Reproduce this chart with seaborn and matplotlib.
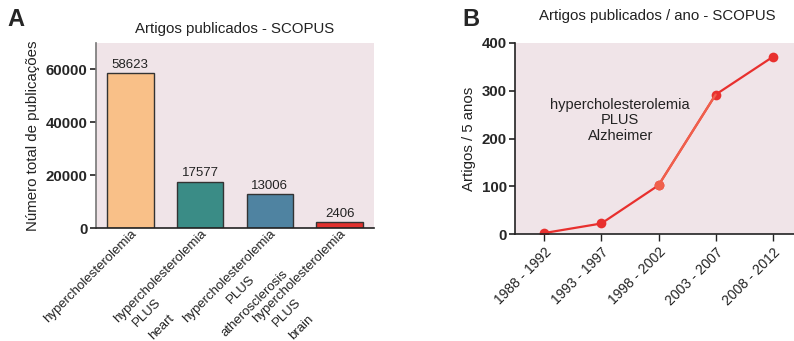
import matplotlib
matplotlib.use("Agg")
import matplotlib.pyplot as plt
import seaborn as sns
import pandas as pd
import numpy as np

sns.set_theme(style="white")
plt.rcParams['font.family'] = ['Liberation Sans', 'DejaVu Sans']

# ---- data ----
categories = ["hypercholesterolemia",
              "hypercholesterolemia\nPLUS\nheart",
              "hypercholesterolemia\nPLUS\natherosclerosis",
              "hypercholesterolemia\nPLUS\nbrain"]
counts = [58623, 17577, 13006, 2406]
bar_colors = ["#F9C088", "#3A8C86", "#4F83A1", "#E0312E"]

periods = ["1988 - 1992", "1993 - 1997", "1998 - 2002", "2003 - 2007", "2008 - 2012"]
articles = [2, 22, 102, 292, 371]

bg = "#F0E4E8"
txt = "#222222"

fig = plt.figure(figsize=(7.94, 3.41), dpi=100)

# ---- Panel A ----
axA = fig.add_axes([96/794, 1-228/341, 278/794, 185/341])
dfA = pd.DataFrame({"cat": categories, "n": counts})
sns.barplot(data=dfA, x="cat", y="n", hue="cat", palette=bar_colors, legend=False,
            width=0.67, edgecolor="#333333", linewidth=1.0, saturation=1, ax=axA)
axA.set_facecolor(bg)
axA.set_xlim(-0.49, 3.49)
axA.set_ylim(0, 70000)
axA.set_yticks([0, 20000, 40000, 60000])
for i, v in enumerate(counts):
    axA.annotate(str(v), (i, v), xytext=(0, 1.5), textcoords="offset points",
                 ha="center", va="bottom", fontsize=9.5, color=txt)
axA.set_xlabel("")
axA.set_ylabel("Número total de publicações", fontsize=10.8, color=txt, labelpad=4)
axA.set_title("Artigos publicados - SCOPUS", fontsize=10.8, color=txt, pad=7)
for s in ["top", "right"]:
    axA.spines[s].set_visible(False)
axA.spines["left"].set_color("#777777")
axA.spines["bottom"].set_color(txt)
axA.spines["left"].set_linewidth(1.2)
axA.spines["bottom"].set_linewidth(1.2)
axA.tick_params(axis="y", which="both", left=True, length=4, width=1.2, color=txt,
                labelsize=10.8, pad=2)
axA.tick_params(axis="x", bottom=False, pad=-6)

# first line of each category as the tick label, continuation lines set beneath it
first_lines = [c.split("\n")[0] for c in categories]
axA.set_xticks(range(len(categories)))
axA.set_xticklabels(first_lines)
for lbl in axA.get_yticklabels():
    lbl.set_fontweight("bold")
for lbl in axA.get_xticklabels():
    lbl.set_rotation(45)
    lbl.set_ha("right")
    lbl.set_rotation_mode("anchor")
    lbl.set_fontsize(9.5)
    lbl.set_color(txt)

u = np.array([0.7071, 0.7071])     # along the rotated text
w = np.array([0.7071, -0.7071])    # perpendicular, downwards
c0 = np.array([-42.0, -49.0])      # centre of first line relative to tick (px)
cont_shift = [0, -33, 0, -33]      # along-text shift of the continuation lines (px)
line_off = [18, 38]
for i, c in enumerate(categories):
    parts = c.split("\n")[1:]
    for j, p in enumerate(parts):
        off = (c0 + cont_shift[i] * u + line_off[j] * w) * 0.72
        axA.annotate(p, (i, 0), xycoords=("data", "axes fraction"),
                     xytext=tuple(off), textcoords="offset points",
                     ha="center", va="center", rotation=45, rotation_mode="anchor",
                     fontsize=9.5, color=txt, annotation_clip=False)

# ---- Panel B ----
axB = fig.add_axes([515/794, 1-234/341, 279/794, 191/341])
dfB = pd.DataFrame({"period": periods, "n": articles})
sns.lineplot(data=dfB, x="period", y="n", color="#E8302E", marker="o", markersize=7,
             markeredgewidth=0, linewidth=1.6, sort=False, ax=axB)
sns.lineplot(data=dfB.iloc[2:4], x="period", y="n", color="#F0604C", linewidth=1.6,
             sort=False, ax=axB)
sns.scatterplot(data=dfB.iloc[2:3], x="period", y="n", color="#F0604C", s=49,
                linewidth=0, ax=axB, zorder=5)
axB.set_facecolor(bg)
axB.set_xlim(-0.51, 4.37)
axB.set_ylim(0, 400)
axB.set_yticks([0, 100, 200, 300, 400])
axB.set_xlabel("")
axB.set_ylabel("Artigos / 5 anos", fontsize=10.8, color=txt, labelpad=4)
fig.text(657/794, 1-16/341, "Artigos publicados / ano - SCOPUS", ha="center", va="center",
         fontsize=10.8, color=txt)
axB.text(1.33, 238, "hypercholesterolemia\nPLUS\nAlzheimer", ha="center", va="center",
         fontsize=10.5, color=txt, linespacing=1.15)
for s in ["top", "right"]:
    axB.spines[s].set_visible(False)
axB.spines["left"].set_color(txt)
axB.spines["bottom"].set_color(txt)
axB.spines["left"].set_linewidth(1.2)
axB.spines["bottom"].set_linewidth(1.2)
axB.tick_params(axis="y", left=True, length=4, width=1.2, color=txt, labelsize=10.8, pad=2)
axB.tick_params(axis="x", bottom=True, length=5, width=1.0, color=txt, labelsize=10, pad=3)
for lbl in axB.get_yticklabels():
    lbl.set_fontweight("bold")
for lbl in axB.get_xticklabels():
    lbl.set_rotation(45)
    lbl.set_ha("right")
    lbl.set_rotation_mode("anchor")
    lbl.set_color(txt)

# Panel letters
fig.text(7/794, 1-20/341, "A", fontsize=17, fontweight="bold", ha="left", va="center")
fig.text(462/794, 1-20/341, "B", fontsize=17, fontweight="bold", ha="left", va="center")

fig.savefig("out.png", dpi=100)
